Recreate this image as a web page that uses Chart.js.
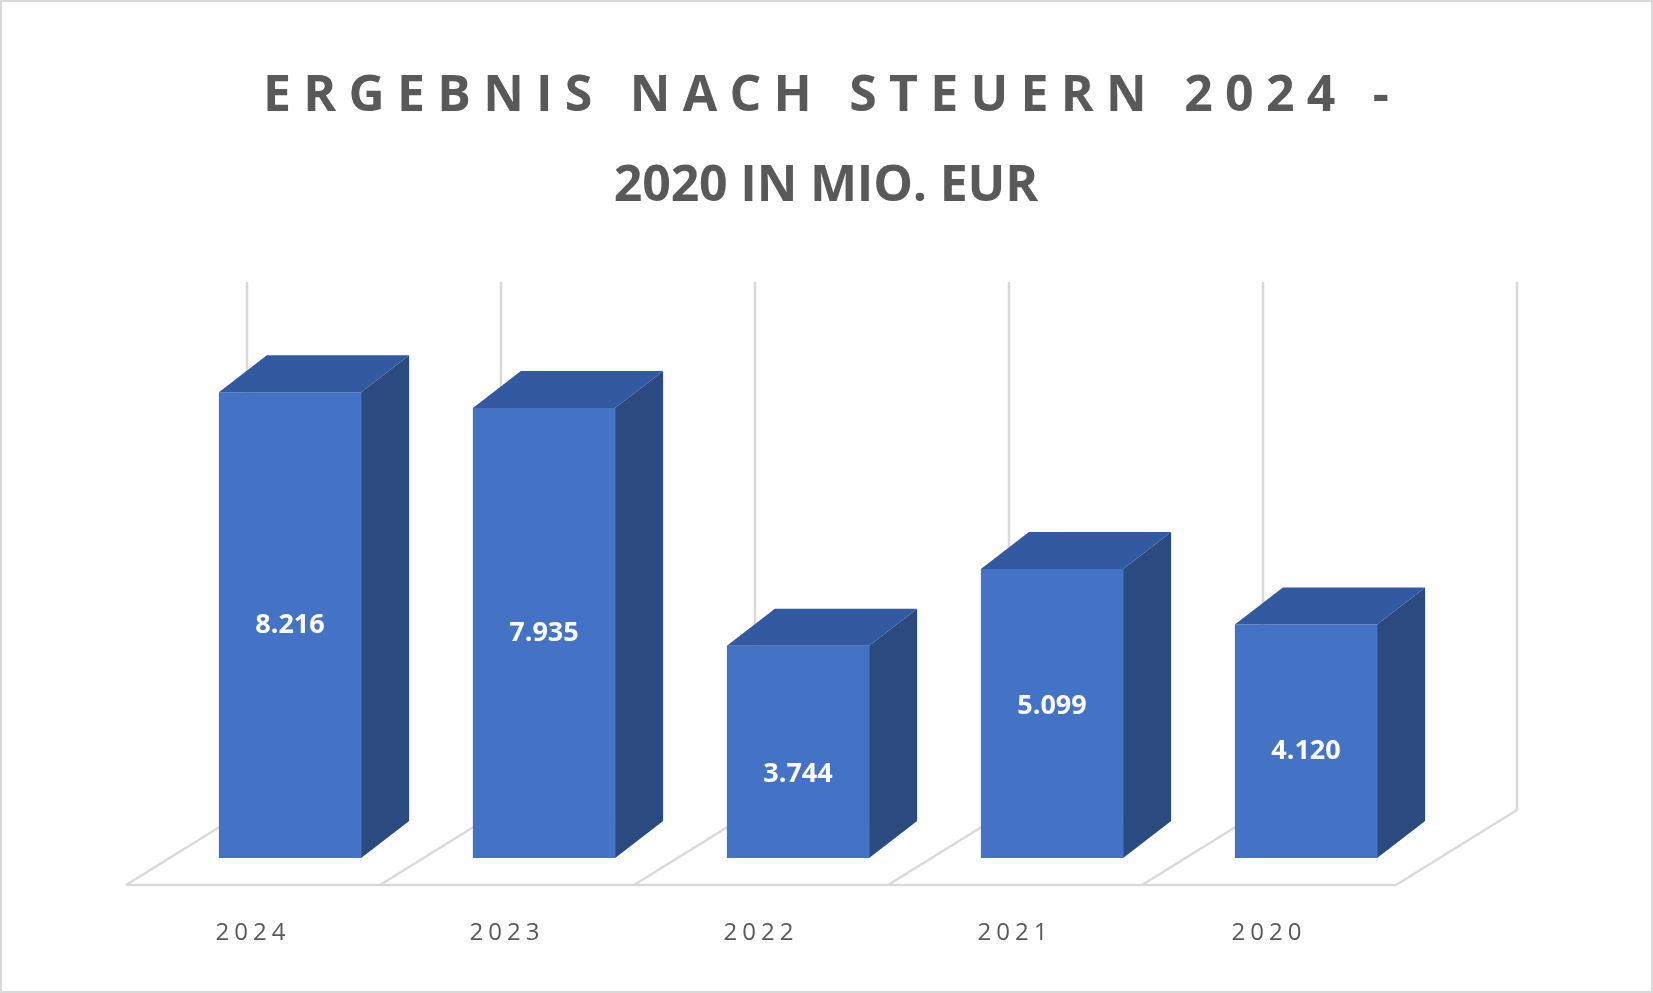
<!DOCTYPE html>
<html><head><meta charset="utf-8">
<script src="https://cdn.jsdelivr.net/npm/chart.js@4/dist/chart.umd.min.js"></script>
<style>html,body{margin:0;padding:0;background:#fff}canvas{display:block}</style>
</head><body>
<canvas id="c" width="1653" height="993"></canvas>
<script>
const categories = ["2024","2023","2022","2021","2020"];
const values = [8.216, 7.935, 3.744, 5.099, 4.120];
const valueLabels = ["8.216","7.935","3.744","5.099","4.120"];
const titleLines = ["ERGEBNIS NACH STEUERN 2024 -", "2020 IN MIO. EUR"];

const DX = 48, DY = -37;
const FLOOR_DX = 121, FLOOR_DY = -75;

const deco = {
  id: 'deco',
  beforeDatasetsDraw(chart) {
    const ctx = chart.ctx, a = chart.chartArea, n = categories.length;
    const step = (a.right - a.left) / n;
    const fy = a.bottom + 27;
    const x0 = a.left - 37;
    ctx.save();
    ctx.strokeStyle = '#D9D9D9'; ctx.lineWidth = 2.5;
    for (let i = 0; i <= n; i++) {
      const fx = x0 + i * step;
      ctx.beginPath(); ctx.moveTo(fx, fy); ctx.lineTo(fx + FLOOR_DX, fy + FLOOR_DY); ctx.stroke();
      ctx.beginPath(); ctx.moveTo(fx + FLOOR_DX, fy + FLOOR_DY); ctx.lineTo(fx + FLOOR_DX, 282); ctx.stroke();
    }
    ctx.beginPath(); ctx.moveTo(x0, fy); ctx.lineTo(x0 + n * step, fy); ctx.stroke();
    // x labels
    ctx.fillStyle = '#595959'; ctx.font = '24px "Open Sans"'; ctx.textAlign = 'center'; ctx.textBaseline = 'middle';
    ctx.letterSpacing = '5px';
    categories.forEach((c, i) => ctx.fillText(c, x0 + (i + 0.5) * step, 933));
    // title
    ctx.font = 'bold 50px "Open Sans"'; ctx.letterSpacing = '0px';
    const targets = [1138, 620];
    titleLines.forEach((t, i) => {
      const w = ctx.measureText(t).width;
      const sp = (targets[i] - w) / t.length;
      ctx.letterSpacing = sp + 'px';
      ctx.fillText(t, 826 + sp / 2, i === 0 ? 97 : 187);
    });
    ctx.restore();
  },
  afterDatasetsDraw(chart) {
    const ctx = chart.ctx;
    const meta = chart.getDatasetMeta(0);
    ctx.save();
    meta.data.forEach((b, i) => {
      const l = b.x - b.width / 2, r = b.x + b.width / 2, t = b.y, bot = b.base;
      ctx.fillStyle = '#2A4A80';
      ctx.beginPath(); ctx.moveTo(r, t); ctx.lineTo(r + DX, t + DY); ctx.lineTo(r + DX, bot + DY); ctx.lineTo(r, bot); ctx.closePath(); ctx.fill();
      ctx.fillStyle = '#335AA0';
      ctx.beginPath(); ctx.moveTo(l, t); ctx.lineTo(l + DX, t + DY); ctx.lineTo(r + DX, t + DY); ctx.lineTo(r, t); ctx.closePath(); ctx.fill();
      ctx.fillStyle = '#fff'; ctx.font = 'bold 27px "Open Sans"'; ctx.textAlign = 'center'; ctx.textBaseline = 'middle';
      ctx.fillText(valueLabels[i], b.x, (t + bot) / 2 + (i===2?22:i===4?10:i===3?-7:0));
    });
    ctx.strokeStyle = '#D9D9D9'; ctx.lineWidth = 2;
    ctx.strokeRect(1, 1, chart.width - 2, chart.height - 2);
    ctx.restore();
  }
};

new Chart(document.getElementById('c'), {
  type: 'bar',
  data: { labels: categories, datasets: [{ data: values, backgroundColor: '#4472C4', borderWidth: 0, barPercentage: 0.56, categoryPercentage: 1 }] },
  options: {
    responsive: false, animation: false,
    layout: { padding: { left: 163, right: 220, top: 291, bottom: 135 } },
    plugins: { legend: { display: false }, tooltip: { enabled: false }, title: { display: false } },
    scales: { x: { display: false }, y: { display: false, min: 0, max: 10 } }
  },
  plugins: [deco]
});
</script>
</body></html>
